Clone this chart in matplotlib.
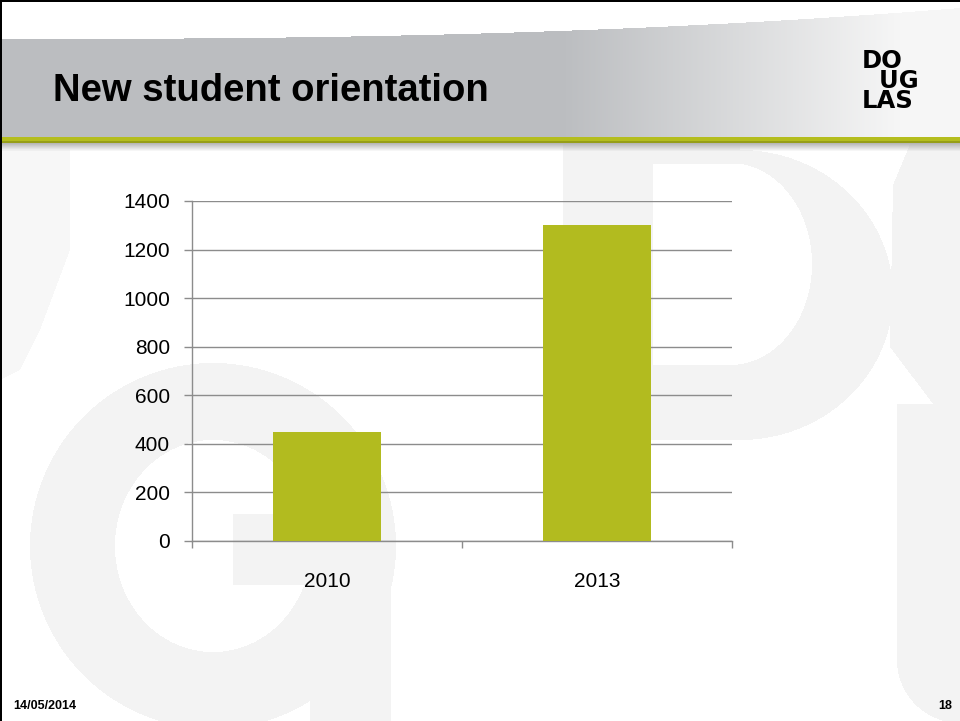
import numpy as np
import matplotlib
matplotlib.use("Agg")
import matplotlib.pyplot as plt
from matplotlib.path import Path

# ── data ────────────────────────────────────────────────
YEARS = ["2010", "2013"]
STUDENTS = [450, 1300]
Y_TICKS = [0, 200, 400, 600, 800, 1000, 1200, 1400]

TITLE = "New student orientation"
DATE = "14/05/2014"
PAGE = "18"

# ── styling ─────────────────────────────────────────────
W, H = 960, 721
BAR_COLOR = "#b2bb1f"
GRID_COLOR = "#8c8c8c"
SHAPE_GRAY = np.array([243, 243, 243], dtype=float)
FAINT_GRAY = np.array([247, 247, 247], dtype=float)
FONT = "Liberation Sans"


def slide_background():
    """Build the slide backdrop (faint letters, header band, rule) as an RGB array."""
    yy, xx = np.mgrid[0:H, 0:W] + 0.5
    img = np.full((H, W, 3), 255.0)
    pts = np.column_stack([xx.ravel(), yy.ravel()])

    def poly(verts):
        return Path(verts).contains_points(pts).reshape(H, W)

    # big "D" on the right
    d_outer = (xx >= 563) & (yy >= 137) & (yy <= 440) & (
        (xx <= 740) | (((xx - 740) / 153) ** 2 + ((yy - 295) / 145) ** 2 <= 1))
    d_hole = (xx >= 653) & (yy >= 164) & (yy <= 365) & (
        (xx <= 730) | (((xx - 730) / 82) ** 2 + ((yy - 264) / 101) ** 2 <= 1))
    right_piece = poly([(893, 185), (913, 137), (960, 137), (960, 404),
                        (933, 404), (890, 347)])
    u_stem = (xx >= 897) & (yy >= 404) & (
        (yy <= 660) | (xx >= 960 - np.sqrt(np.clip(63 ** 2 - (yy - 660) ** 2, 0, None))))

    # "G" on the left
    ring = (((xx - 213) ** 2 + (yy - 546) ** 2) <= 183 ** 2) & ~(
        ((xx - 213) / 98) ** 2 + ((yy - 546) / 106) ** 2 <= 1)
    g_bar = (xx >= 233) & (xx <= 391) & (yy >= 514) & (yy <= 585)
    g_tail = (xx >= 310) & (xx <= 391) & (yy >= 546)
    notch = poly([(14, 721), (42, 640), (112, 721)])

    gray = ((d_outer & ~d_hole) | right_piece | u_stem | ring | g_bar | g_tail) & ~notch
    left_top = poly([(0, 150), (70, 150), (70, 250), (40, 330), (20, 370), (0, 380)])
    img[left_top] = FAINT_GRAY
    img[gray] = SHAPE_GRAY

    # header band with curved top edge and a horizontal fade to the right
    top = 39 - 31 * (xx / W) ** 2.5
    band = (yy >= top) & (yy < 137)
    left_col = np.array([187, 189, 192], dtype=float)
    mid_col = np.array([246, 246, 246], dtype=float)
    t = np.clip((xx - 560) / 340, 0, 1)[..., None]
    grad = left_col * (1 - t) + mid_col * t
    img[band] = grad[band]

    # olive rule and its shadow
    img[137:141] = [180, 189, 30]
    img[141:143] = [150, 158, 24]
    for i, row in enumerate(range(143, 151)):
        k = (i + 1) / 9
        img[row] = img[row] * k + np.array([175, 175, 175]) * (1 - k)

    # slide border (top and left)
    img[0:2, :] = 0
    img[:, 0:2] = 0
    return img.astype(np.uint8)


fig = plt.figure(figsize=(W / 100, H / 100), dpi=100)

ax_bg = fig.add_axes([0, 0, 1, 1], zorder=0)
ax_bg.imshow(slide_background(), extent=(0, W, H, 0), aspect="auto",
             interpolation="bilinear")
ax_bg.set_xlim(0, W)
ax_bg.set_ylim(H, 0)
ax_bg.axis("off")

ax_bg.text(53, 101, TITLE, fontsize=27.5, fontweight="bold", family=FONT,
           va="baseline", ha="left")
# stacked logo lettering
ax_bg.text(862, 49, "DO\n  UG\nLAS", fontsize=17.5, fontweight="bold",
           family="DejaVu Sans", va="top", ha="left", multialignment="left",
           linespacing=0.8)
ax_bg.text(13, 709, DATE, fontsize=9, fontweight="bold", family=FONT,
           va="baseline", ha="left")
ax_bg.text(952, 709, PAGE, fontsize=9, fontweight="bold", family=FONT,
           va="baseline", ha="right")

# ── bar chart ───────────────────────────────────────────
ax = fig.add_axes([192 / W, 1 - 541 / H, (732 - 192) / W, (541 - 201) / H], zorder=1)
ax.set_facecolor("none")
x = np.arange(len(YEARS))
ax.bar(x, STUDENTS, width=0.4, color=BAR_COLOR, zorder=3)

ax.set_xlim(-0.5, len(YEARS) - 0.5)
ax.set_ylim(0, 1400)
ax.set_yticks(Y_TICKS)
ax.set_yticklabels([str(v) for v in Y_TICKS])
ax.set_xticks(x)
ax.set_xticklabels(YEARS)
ax.set_xticks(np.arange(len(YEARS) + 1) - 0.5, minor=True)

ax.yaxis.grid(True, color=GRID_COLOR, linewidth=1.0, zorder=1)
ax.set_axisbelow(True)
for side in ("top", "right"):
    ax.spines[side].set_visible(False)
for side in ("left", "bottom"):
    ax.spines[side].set_color(GRID_COLOR)
    ax.spines[side].set_linewidth(1.0)

ax.tick_params(axis="y", length=6, width=1.0, color=GRID_COLOR, pad=10,
               labelsize=15, labelcolor="black")
ax.tick_params(axis="x", which="major", length=0, pad=22,
               labelsize=15, labelcolor="black")
ax.tick_params(axis="x", which="minor", length=5, width=1.0, color=GRID_COLOR)
for lab in ax.get_xticklabels() + ax.get_yticklabels():
    lab.set_family(FONT)

fig.savefig("out.png", dpi=100)
